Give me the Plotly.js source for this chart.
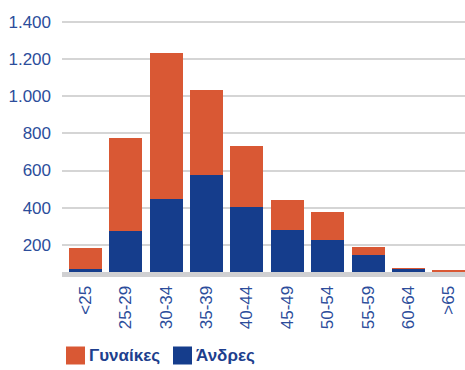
<!DOCTYPE html>
<html>
<head>
<meta charset="utf-8">
<script src="https://cdn.plot.ly/plotly-3.0.1.min.js"></script>
<style>
  html, body { margin: 0; padding: 0; background: #ffffff; }
  #chart { width: 465px; height: 370px; }
</style>
</head>
<body>
<div id="chart"></div>
<script>
// Age groups and headcounts per group
const ageGroups = ['<25', '25-29', '30-34', '35-39', '40-44', '45-49', '50-54', '55-59', '60-64', '>65'];
const men   = [73, 277, 447, 576, 404, 278, 226, 146, 70, 0];
const women = [110, 498, 785, 457, 328, 163, 151, 43, 6, 65];

const legendNames = ['Γυναίκες', 'Άνδρες'];
const yTicks = [200, 400, 600, 800, 1000, 1200, 1400];

const ORANGE = '#d95834';
const BLUE = '#153d8c';
const TEXT = '#2c4d9b';
const FONT = '"Liberation Sans", Arial, sans-serif';

const traces = [
  { type: 'bar', x: ageGroups, y: men, name: legendNames[1],
    marker: { color: BLUE }, showlegend: false, hoverinfo: 'x+y+name' },
  { type: 'bar', x: ageGroups, y: women, name: legendNames[0],
    marker: { color: ORANGE }, showlegend: false, hoverinfo: 'x+y+name' }
];

// Legend swatches and labels below the axis
const W = 465, H = 370, PL = 62, PB = 272, PH = 262;
const swatches = [
  { x0: 66, x1: 85, color: ORANGE, label: legendNames[0], tx: 87 },
  { x0: 173, x1: 192, color: BLUE, label: legendNames[1], tx: 194 }
];
const px = x => (x - PL) / (W - PL);
const py = y => (PB - y) / PH;
const shapes = swatches.map(s => ({
  type: 'rect', xref: 'paper', yref: 'paper',
  x0: px(s.x0), x1: px(s.x1), y0: py(364.5), y1: py(346.5),
  fillcolor: s.color, line: { width: 0 }
}));
const annotations = swatches.map(s => ({
  xref: 'paper', yref: 'paper',
  x: px(s.tx), y: py(356),
  xanchor: 'left', yanchor: 'middle', showarrow: false,
  text: '<b>' + s.label + '</b>',
  font: { family: FONT, size: 17, color: '#1e3f8e' }
}));

const tickFont = { family: FONT, size: 17, color: TEXT };

const layout = {
  width: W, height: H,
  margin: { l: PL, r: 0, t: 10, b: H - PB },
  paper_bgcolor: '#ffffff', plot_bgcolor: '#ffffff',
  barmode: 'stack',
  bargap: 0.183,
  separators: ',.',
  showlegend: false,
  font: tickFont,
  xaxis: {
    type: 'category',
    range: [-0.577, 9.4],
    showgrid: false,
    showline: true, linecolor: '#d0d0d2', linewidth: 5,
    ticks: '', tickangle: -90,
    ticklabelstandoff: 2,
    tickfont: tickFont,
    fixedrange: true
  },
  yaxis: {
    range: [54.3, 1462.9],
    tickvals: yTicks,
    tickformat: ',d',
    separatethousands: true,
    showgrid: true, gridcolor: '#d5d5d5', gridwidth: 2,
    zeroline: false, showline: false,
    ticks: '',
    ticklabelstandoff: 10,
    tickfont: tickFont,
    fixedrange: true
  },
  shapes: shapes,
  annotations: annotations
};

Plotly.newPlot('chart', traces, layout, { displayModeBar: false, staticPlot: true });
</script>
</body>
</html>
